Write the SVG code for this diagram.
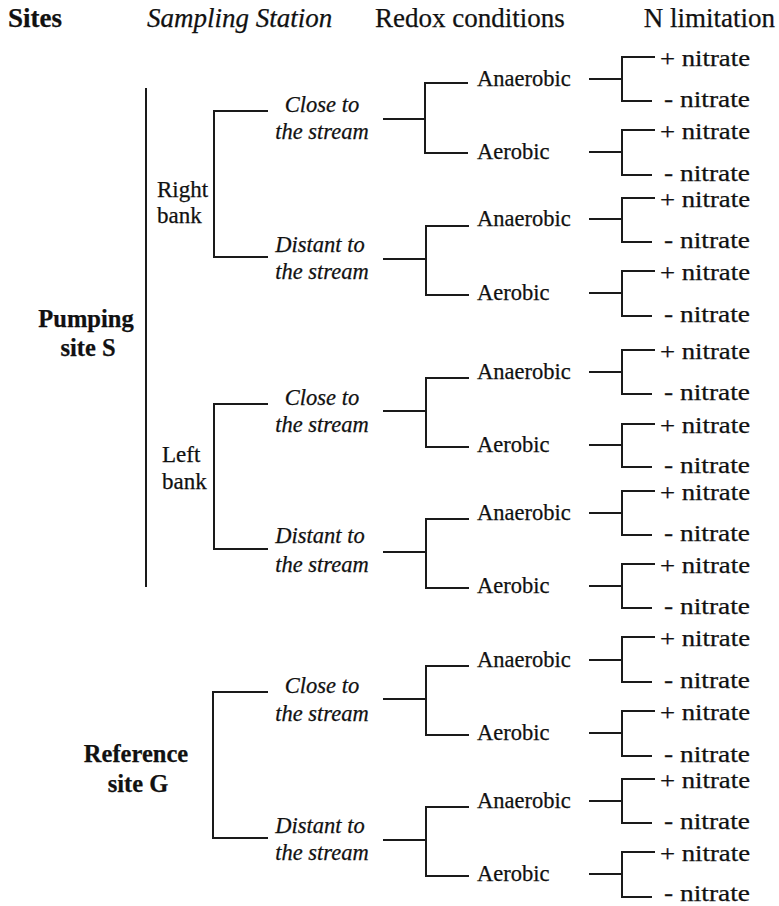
<svg xmlns="http://www.w3.org/2000/svg" width="779" height="906" viewBox="0 0 779 906" font-family="'Liberation Serif', 'DejaVu Serif', serif">
<style>
text{font-family:'Liberation Serif','DejaVu Serif',serif;fill:#111;stroke:#111;stroke-width:0.25px}
.h{font-size:27px}
.b{font-weight:bold;font-size:24.5px}
.i{font-style:italic;font-size:22.5px}
.r{font-size:22.5px}
.bk{font-size:23px}
.n{font-size:23px}
.m{text-anchor:middle}
.c path{fill:none;stroke:#1a1a1a;stroke-width:2}
</style>
<rect width="779" height="906" fill="#fff"/>
<g id="headers">
<text class="h" x="8" y="27" font-weight="bold">Sites</text>
<text class="h" x="147" y="27" font-style="italic">Sampling Station</text>
<text class="h" x="375" y="27">Redox conditions</text>
<text class="h" x="775" y="27" text-anchor="end">N limitation</text>
</g>
<g class="c" id="connectors">
<path d="M146 88V587"/>
<path d="M268 111H214V257H268"/>
<path d="M268 404H214V549H268"/>
<path d="M268 692H213V838H268"/>
<path d="M383 119H425M468 83H425V153H468"/>
<path d="M383 259H426M469 226H426V295H469"/>
<path d="M383 411H426M469 378H426V447H469"/>
<path d="M383 552H426M469 519H426V588H469"/>
<path d="M383 699H426M469 666H426V735H469"/>
<path d="M383 840H426M469 807H426V876H469"/>
<path d="M589 79H622M655 57H622V101H652"/>
<path d="M589 152H622M655 130H622V175H652"/>
<path d="M589 219H622M655 198H622V242H652"/>
<path d="M589 293H622M655 271H622V316H652"/>
<path d="M589 372H622M655 350H622V394H652"/>
<path d="M589 445H622M655 424H622V467H652"/>
<path d="M589 513H622M655 491H622V535H652"/>
<path d="M589 586H622M655 564H622V608H652"/>
<path d="M589 660H622M655 637H622V682H652"/>
<path d="M589 733H622M655 711H622V756H652"/>
<path d="M589 801H622M655 779H622V823H652"/>
<path d="M589 874H622M655 852H622V897H652"/>
</g>
<g id="site-S"><text class="b m" x="86" y="327">Pumping</text><text class="b m" x="88" y="356">site S</text></g>
<g id="site-G"><text class="b m" x="136" y="762">Reference</text><text class="b m" x="138" y="792">site G</text></g>
<g id="bank-R"><text class="bk" x="157" y="197">Right</text><text class="bk" x="157" y="223">bank</text></g>
<g id="bank-L"><text class="bk" x="162" y="462">Left</text><text class="bk" x="162" y="489">bank</text></g>
<g id="st-1"><text class="i m" x="322" y="112">Close to</text><text class="i m" x="322" y="139">the stream</text></g>
<g id="st-2"><text class="i m" x="320" y="252">Distant to</text><text class="i m" x="322" y="279">the stream</text></g>
<g id="st-3"><text class="i m" x="322" y="405">Close to</text><text class="i m" x="322" y="432">the stream</text></g>
<g id="st-4"><text class="i m" x="320" y="543">Distant to</text><text class="i m" x="322" y="572">the stream</text></g>
<g id="st-5"><text class="i m" x="322" y="693">Close to</text><text class="i m" x="322" y="721">the stream</text></g>
<g id="st-6"><text class="i m" x="320" y="833">Distant to</text><text class="i m" x="322" y="860">the stream</text></g>
<g id="rx-1a"><text class="r" x="477" y="86">Anaerobic</text></g>
<g id="rx-1b"><text class="r" x="477" y="159">Aerobic</text></g>
<g id="rx-2a"><text class="r" x="477" y="226">Anaerobic</text></g>
<g id="rx-2b"><text class="r" x="477" y="300">Aerobic</text></g>
<g id="rx-3a"><text class="r" x="477" y="379">Anaerobic</text></g>
<g id="rx-3b"><text class="r" x="477" y="452">Aerobic</text></g>
<g id="rx-4a"><text class="r" x="477" y="520">Anaerobic</text></g>
<g id="rx-4b"><text class="r" x="477" y="593">Aerobic</text></g>
<g id="rx-5a"><text class="r" x="477" y="667">Anaerobic</text></g>
<g id="rx-5b"><text class="r" x="477" y="740">Aerobic</text></g>
<g id="rx-6a"><text class="r" x="477" y="808">Anaerobic</text></g>
<g id="rx-6b"><text class="r" x="477" y="881">Aerobic</text></g>
<g id="n-1a"><text class="n" x="660" y="65.5" textLength="90" lengthAdjust="spacingAndGlyphs">+ nitrate</text><text class="n" x="664" y="107" textLength="86" lengthAdjust="spacingAndGlyphs">- nitrate</text></g>
<g id="n-1b"><text class="n" x="660" y="138.5" textLength="90" lengthAdjust="spacingAndGlyphs">+ nitrate</text><text class="n" x="664" y="181" textLength="86" lengthAdjust="spacingAndGlyphs">- nitrate</text></g>
<g id="n-2a"><text class="n" x="660" y="206.5" textLength="90" lengthAdjust="spacingAndGlyphs">+ nitrate</text><text class="n" x="664" y="248" textLength="86" lengthAdjust="spacingAndGlyphs">- nitrate</text></g>
<g id="n-2b"><text class="n" x="660" y="279.5" textLength="90" lengthAdjust="spacingAndGlyphs">+ nitrate</text><text class="n" x="664" y="322" textLength="86" lengthAdjust="spacingAndGlyphs">- nitrate</text></g>
<g id="n-3a"><text class="n" x="660" y="358.5" textLength="90" lengthAdjust="spacingAndGlyphs">+ nitrate</text><text class="n" x="664" y="400" textLength="86" lengthAdjust="spacingAndGlyphs">- nitrate</text></g>
<g id="n-3b"><text class="n" x="660" y="432.5" textLength="90" lengthAdjust="spacingAndGlyphs">+ nitrate</text><text class="n" x="664" y="473" textLength="86" lengthAdjust="spacingAndGlyphs">- nitrate</text></g>
<g id="n-4a"><text class="n" x="660" y="499.5" textLength="90" lengthAdjust="spacingAndGlyphs">+ nitrate</text><text class="n" x="664" y="541" textLength="86" lengthAdjust="spacingAndGlyphs">- nitrate</text></g>
<g id="n-4b"><text class="n" x="660" y="572.5" textLength="90" lengthAdjust="spacingAndGlyphs">+ nitrate</text><text class="n" x="664" y="614" textLength="86" lengthAdjust="spacingAndGlyphs">- nitrate</text></g>
<g id="n-5a"><text class="n" x="660" y="645.5" textLength="90" lengthAdjust="spacingAndGlyphs">+ nitrate</text><text class="n" x="664" y="688" textLength="86" lengthAdjust="spacingAndGlyphs">- nitrate</text></g>
<g id="n-5b"><text class="n" x="660" y="719.5" textLength="90" lengthAdjust="spacingAndGlyphs">+ nitrate</text><text class="n" x="664" y="762" textLength="86" lengthAdjust="spacingAndGlyphs">- nitrate</text></g>
<g id="n-6a"><text class="n" x="660" y="787.5" textLength="90" lengthAdjust="spacingAndGlyphs">+ nitrate</text><text class="n" x="664" y="829" textLength="86" lengthAdjust="spacingAndGlyphs">- nitrate</text></g>
<g id="n-6b"><text class="n" x="660" y="860.5" textLength="90" lengthAdjust="spacingAndGlyphs">+ nitrate</text><text class="n" x="664" y="901" textLength="86" lengthAdjust="spacingAndGlyphs">- nitrate</text></g>
</svg>
